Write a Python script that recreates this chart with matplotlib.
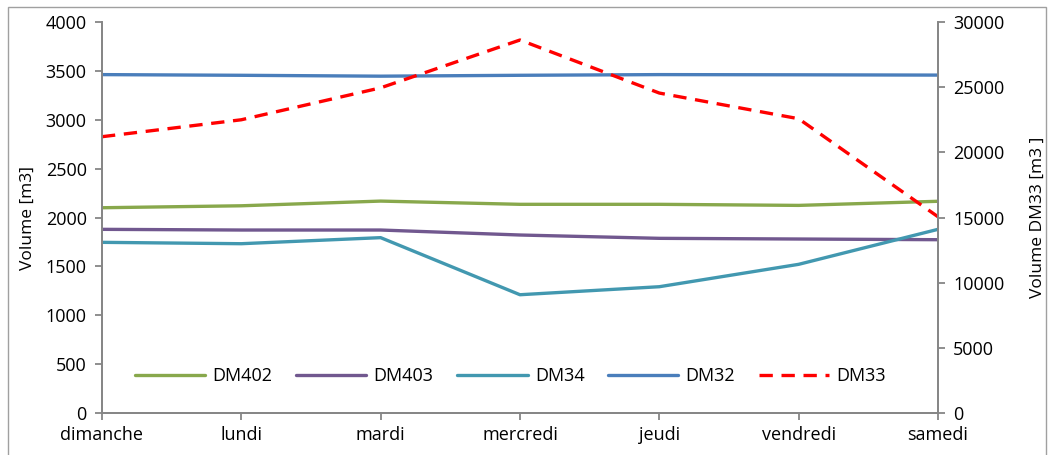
import matplotlib
matplotlib.use("Agg")
import matplotlib.pyplot as plt
import numpy as np
from matplotlib.patches import Rectangle

plt.rcParams["font.family"] = ["Open Sans", "DejaVu Sans"]

# ---------- données ----------
jours = ["dimanche", "lundi", "mardi", "mercredi", "jeudi", "vendredi", "samedi"]
dm402 = [2100, 2120, 2168, 2135, 2135, 2124, 2166]
dm403 = [1879, 1872, 1872, 1821, 1787, 1780, 1773]
dm34 = [1746, 1732, 1794, 1210, 1292, 1521, 1879]
dm32 = [3462, 3455, 3446, 3455, 3462, 3460, 3457]
dm33 = [21200, 22500, 24950, 28620, 24550, 22580, 15060]  # axe secondaire

couleurs = {
    "DM402": "#88A84C",
    "DM403": "#71588F",
    "DM34": "#4298B0",
    "DM32": "#4A7EBB",
    "DM33": "#FF0000",
}
gris = "#868686"

fig = plt.figure(figsize=(10.48, 4.55), dpi=100)
ax = fig.add_axes([0.0973, 0.0923, 0.7977, 0.8593])
ax2 = ax.twinx()

# cadre extérieur
fig.patches.append(Rectangle((0.008, -0.01), 0.99, 0.995, transform=fig.transFigure,
                             fill=False, edgecolor="#A0A0A0", linewidth=1.0))

x = np.arange(len(jours))
lw = 2.4
series = [("DM402", dm402), ("DM403", dm403), ("DM34", dm34), ("DM32", dm32)]
lignes = []
for nom, vals in series:
    l, = ax.plot(x, vals, color=couleurs[nom], linewidth=lw, label=nom,
                 solid_joinstyle="round", solid_capstyle="round")
    lignes.append(l)
l, = ax2.plot(x, dm33, color=couleurs["DM33"], linewidth=lw, label="DM33",
              linestyle=(0, (4, 2.6)), dash_joinstyle="round")
lignes.append(l)

ax.set_xlim(0, len(jours) - 1)
ax.set_ylim(0, 4000)
ax2.set_ylim(0, 30000)
ax.set_yticks(np.arange(0, 4001, 500))
ax2.set_yticks(np.arange(0, 30001, 5000))
ax.set_xticks(x)
ax.set_xticklabels(jours)

for a in (ax, ax2):
    a.spines["top"].set_visible(False)
    for s in ("left", "right", "bottom"):
        a.spines[s].set_color(gris)
        a.spines[s].set_linewidth(1.3)
    a.tick_params(colors=gris, labelcolor="black", labelsize=13, length=5,
                  width=1.3, direction="out")
ax.tick_params(axis="x", pad=4)
ax.tick_params(axis="y", pad=6)
ax2.tick_params(axis="y", pad=6)

ax.set_ylabel("Volume [m3]", fontsize=12.5, labelpad=7)
ax2.set_ylabel("Volume DM33 [m3 ]", fontsize=12.5, labelpad=18)

ax2.legend(lignes, [l.get_label() for l in lignes], loc="lower left",
           bbox_to_anchor=(0.02, 0.03), ncol=5, frameon=False, fontsize=13,
           handlelength=3.9, columnspacing=1.3, handletextpad=0.4)

fig.savefig("out.png", dpi=100)
